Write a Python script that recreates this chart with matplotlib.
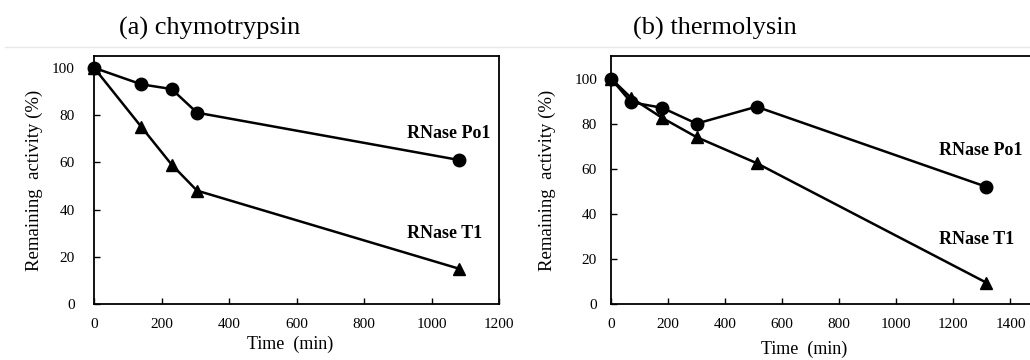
import matplotlib.pyplot as plt
from matplotlib.lines import Line2D

plt.rcParams['font.family'] = ['Liberation Serif', 'DejaVu Serif']

# (a) chymotrypsin digestion
chymo_time = [0, 140, 230, 305, 1080]
chymo_po1 = [100, 93, 91, 81, 61]
chymo_t1 = [100, 75, 59, 48, 15]

# (b) thermolysin digestion
thermo_time = [0, 70, 180, 300, 510, 1315]
thermo_po1 = [100, 89.5, 87, 80, 87.5, 52]
thermo_t1 = [100, 91.5, 82.5, 74, 62.5, 9.5]

y_ticks = [0, 20, 40, 60, 80, 100]

fig = plt.figure(figsize=(10.3, 3.6), dpi=100)

# thin grey rule under the panel titles
fig.add_artist(Line2D([0.005, 1.0], [0.869, 0.869], color='#e8e8e8', lw=1.0,
                      transform=fig.transFigure))

ax1 = fig.add_axes([0.0913, 0.1556, 0.3932, 0.6889])
ax2 = fig.add_axes([0.5932, 0.1556, 0.4155, 0.6889])


def style(ax, xlim, ylim, xticks, ypad):
    ax.set_xlim(*xlim)
    ax.set_ylim(*ylim)
    ax.set_xticks(xticks)
    ax.set_yticks(y_ticks)
    ax.tick_params(direction='in', length=4, width=1.0, labelsize=11)
    ax.tick_params(axis='x', pad=10)
    ax.tick_params(axis='y', pad=ypad)
    for s in ax.spines.values():
        s.set_linewidth(1.3)
    ax.set_ylabel('Remaining  activity (%)', fontsize=13.5)
    ax.set_xlabel('Time  (min)', fontsize=13)


line_kw = dict(color='black', lw=1.8, clip_on=False, zorder=3)

ax1.plot(chymo_time, chymo_po1, marker='o', ms=9, **line_kw)
ax1.plot(chymo_time, chymo_t1, marker='^', ms=9, **line_kw)
style(ax1, (0, 1200), (0, 105), range(0, 1201, 200), 14)
ax1.yaxis.set_label_coords(-0.125, 0.5)
ax1.xaxis.set_label_coords(0.484, -0.128)
ax1.text(927, 72, 'RNase Po1', fontsize=13, fontweight='bold', va='center')
ax1.text(927, 30, 'RNase T1', fontsize=13, fontweight='bold', va='center')

ax2.plot(thermo_time, thermo_po1, marker='o', ms=9, **line_kw)
ax2.plot(thermo_time, thermo_t1, marker='^', ms=9, **line_kw)
style(ax2, (0, 1500), (0, 110), range(0, 1401, 200), 10)
ax2.yaxis.set_label_coords(-0.128, 0.5)
ax2.xaxis.set_label_coords(0.451, -0.15)
ax2.text(1149, 68, 'RNase Po1', fontsize=13, fontweight='bold', va='center')
ax2.text(1149, 28.5, 'RNase T1', fontsize=13, fontweight='bold', va='center')

fig.text(0.204, 0.922, '(a) chymotrypsin', fontsize=19, ha='center', va='center')
fig.text(0.694, 0.922, '(b) thermolysin', fontsize=19, ha='center', va='center')

fig.savefig('out.png', dpi=100)
